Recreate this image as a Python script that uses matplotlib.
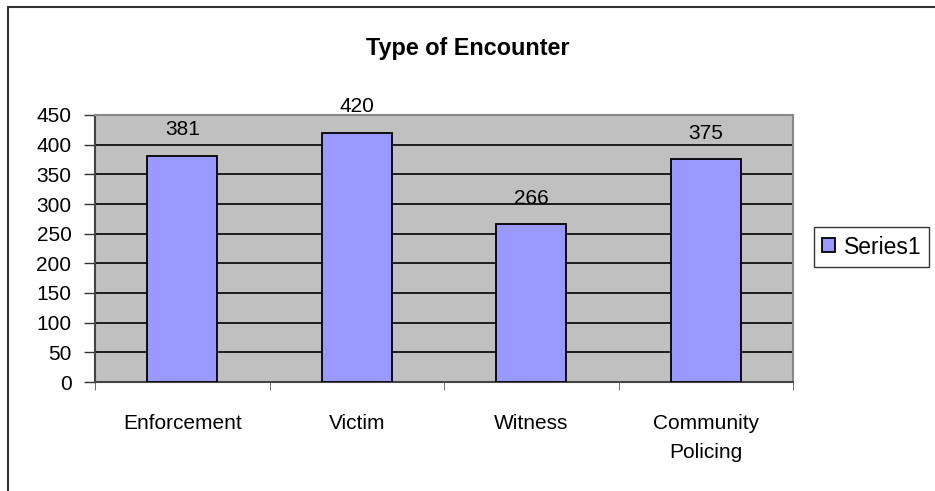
import matplotlib.pyplot as plt
from matplotlib.patches import Rectangle

categories = ['Enforcement', 'Victim', 'Witness', 'Community\nPolicing']
values = [381, 420, 266, 375]
series_name = 'Series1'
y_ticks = [0, 50, 100, 150, 200, 250, 300, 350, 400, 450]

plt.rcParams['font.family'] = ['Liberation Sans', 'DejaVu Sans']

fig = plt.figure(figsize=(9.35, 4.91), dpi=100)
W, H = 935, 491

# outer chart border
fig.patches.append(Rectangle((8 / W, -0.05), 1.1, 1 - 7 / H + 0.05,
                             transform=fig.transFigure, fill=False,
                             edgecolor='#333333', linewidth=1.5))

ax = fig.add_axes([95 / W, (H - 382) / H, 698 / W, 267 / H])
ax.set_facecolor('#C0C0C0')

x = list(range(len(categories)))
bars = ax.bar(x, values, width=0.4, color='#9999FF', edgecolor='black',
              linewidth=1.3, label=series_name, zorder=3)

for xi, v in zip(x, values):
    ax.text(xi, v + 44, str(v), ha='center', va='center', fontsize=15,
            zorder=4, clip_on=False)

ax.set_xlim(-0.5, len(categories) - 0.5)
ax.set_ylim(0, 450)
ax.set_yticks(y_ticks)
ax.yaxis.grid(True, color='black', linewidth=1.2, zorder=1)
ax.set_axisbelow(True)

ax.set_xticks(x)
ax.set_xticklabels(categories, fontsize=15, linespacing=1.65)
ax.set_xticks([i - 0.5 for i in range(len(categories) + 1)], minor=True)
ax.tick_params(axis='x', which='major', length=0, pad=23)
ax.tick_params(axis='x', which='minor', length=6, color='#555555', direction='out')
ax.tick_params(axis='y', length=8, width=1, color='#333333', pad=9, labelsize=15)

ax.spines['left'].set_color('#444444')
ax.spines['bottom'].set_color('#444444')
ax.spines['top'].set_color('#888888')
ax.spines['right'].set_color('#888888')
for s in ax.spines.values():
    s.set_linewidth(1.5)

fig.text(468 / W, 1 - 48 / H, 'Type of Encounter', ha='center', va='center',
         fontsize=16.8, fontweight='bold')

leg = ax.legend(loc='center left', bbox_to_anchor=(814 / W, 1 - 247 / H),
                bbox_transform=fig.transFigure, fontsize=16.5, frameon=True,
                fancybox=False, edgecolor='black', handlelength=0.55,
                handleheight=0.55, handletextpad=0.4, borderpad=0.35,
                borderaxespad=0)
leg.get_frame().set_linewidth(1)

fig.savefig('out.png', dpi=100)
